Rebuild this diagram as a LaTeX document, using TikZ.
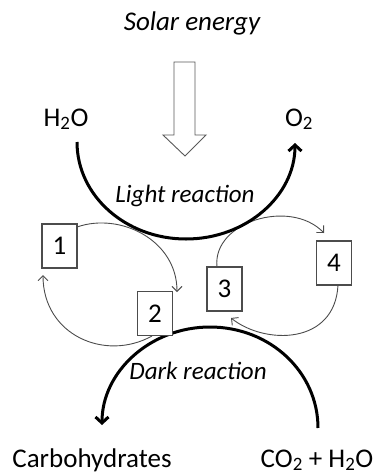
\documentclass[tikz,border=0pt]{standalone}
\usepackage{fontspec}
\setmainfont{Carlito}
\usetikzlibrary{arrows.meta}
\begin{document}
\begin{tikzpicture}[x=1pt,y=-1pt,
  lbl/.style={font=\fontsize{27}{29}\selectfont, inner sep=0pt, anchor=base},
  ital/.style={font=\fontsize{25}{27}\selectfont\itshape, inner sep=0pt, anchor=base},
  numbox/.style={draw=black!70, line width=1.2pt, fill=white, minimum width=35pt, minimum height=44pt, inner sep=0pt, font=\fontsize{27}{29}\selectfont},
  thin/.style={draw=black!70, line width=0.9pt, -{Straight Barb[length=5pt,width=10pt]}},
  thick/.style={draw=black, line width=3pt, -{Straight Barb[length=6pt,width=13pt,line width=3pt]}}
]
\useasboundingbox (0,0) rectangle (373,475);
% texts
\node[ital, font=\fontsize{27}{29}\selectfont\itshape] (solar) at (192,30) {Solar energy};
\node[lbl] (h2o) at (66,126) {H\textsubscript{2}O};
\node[lbl] (o2) at (299,126) {O\textsubscript{2}};
\node[ital] (light) at (185,202) {Light reaction};
\node[ital] (dark) at (198,379) {Dark reaction};
\node[lbl] (carb) at (92,467) {Carbohydrates};
\node[lbl] (co2) at (317,467) {CO\textsubscript{2} + H\textsubscript{2}O};
% block arrow
\draw[draw=black!65, line width=0.9pt, fill=white]
  (174,62) -- (195,62) -- (195,135) -- (206,135) -- (185,156) -- (163,135) -- (174,135) -- cycle;
% coordinates
\coordinate (lA) at (77,142);
\coordinate (lM) at (186,239);
\coordinate (lB) at (295,143);
\coordinate (dA) at (318,428);
\coordinate (dM) at (210,327);
\coordinate (dB) at (102,425);
\coordinate (t1s) at (77,227);
\coordinate (t1e) at (177,292);
\coordinate (t2s) at (152,336);
\coordinate (t2e) at (43,275);
\coordinate (t3s) at (217,267);
\coordinate (t3e) at (324,233);
\coordinate (t4s) at (338,285);
\coordinate (t4e) at (231,318);
% thin cycle arrows
\draw[thin] (t1s) .. controls (120,212) and (177,240) .. (t1e);
\draw[thin] (t2s) .. controls (105,362) and (43,335) .. (t2e);
\draw[thin] (t3s) .. controls (212,222) and (290,198) .. (t3e);
\draw[thin] (t4s) .. controls (335,345) and (265,345) .. (t4e);
% thick arcs
\draw[thick] (lA) .. controls (77,196) and (126,239) .. (lM) .. controls (246,239) and (295,196) .. (lB);
\draw[thick] (dA) .. controls (318,372) and (270,327) .. (dM) .. controls (150,327) and (102,372) .. (dB);
% boxes
\node[numbox] (b1) at (59.5,246) {1};
\node[numbox] (b2) at (155,313.5) {2};
\node[numbox] (b3) at (224.5,289) {3};
\node[numbox] (b4) at (334,263) {4};
\end{tikzpicture}
\end{document}
